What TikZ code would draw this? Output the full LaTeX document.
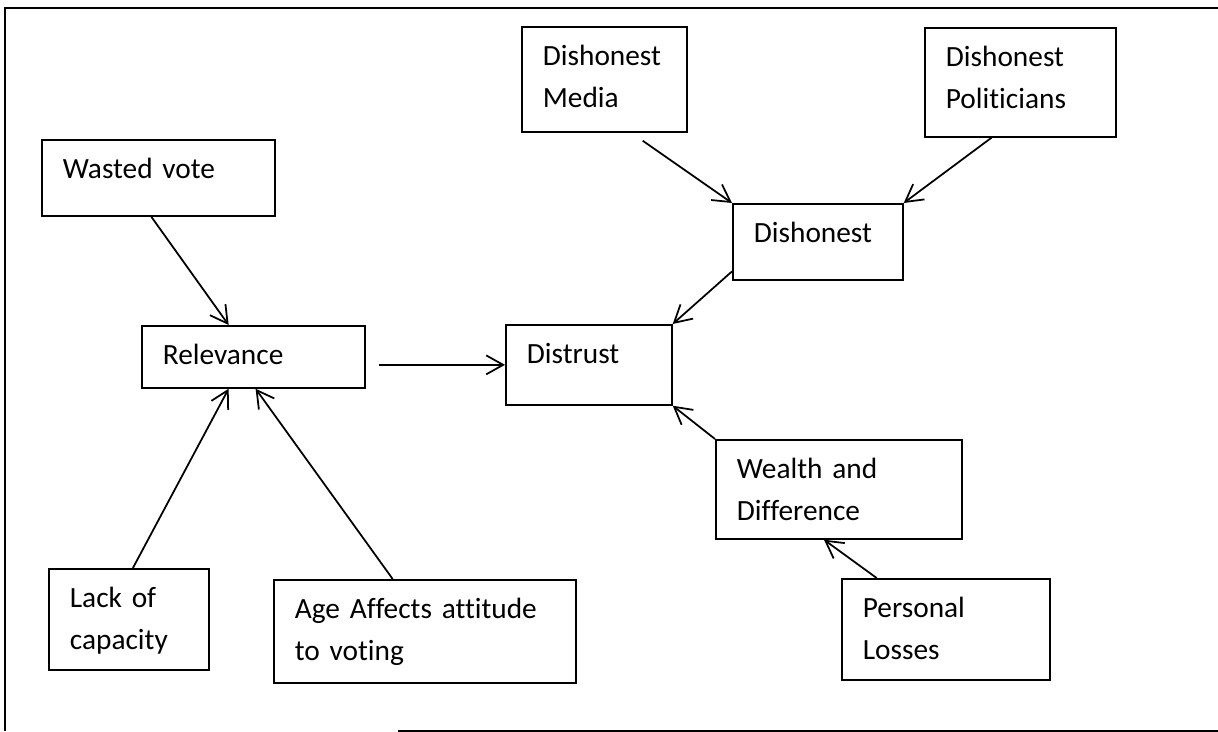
\documentclass[tikz,border=0pt]{standalone}
\usepackage{fontspec}
\setmainfont{Carlito}[Ligatures=NoCommon, WordSpace=0.85]
\usetikzlibrary{arrows.meta}
\usetikzlibrary{calc}
\tikzset{concept/.style={draw, line width=1pt, anchor=north west, align=left,
inner xsep=0.42cm, inner ysep=0pt, text height=0.77cm,
font=\fontsize{16.7}{23.9}\selectfont},
causes/.style={-{Straight Barb[length=0.34cm, width=0.38cm]}, line width=1pt}}

\begin{document}
\begin{tikzpicture}[x=0.02cm, y=-0.02cm]
\useasboundingbox (0,0) rectangle (1218,732);
\draw[line width=1.2pt] (398,731) -- (1230,731);
\draw[line width=1.2pt] (5,731) -- (5,8) -- (1230,8);

\node[concept, text width=3.82cm, text depth=0.75cm] (wasted) at (41,139) {Wasted vote};
\node[concept, text width=2.46cm, text depth=1.33cm] (media) at (521,26) {Dishonest\\Media};
\node[concept, text width=2.98cm, text depth=1.41cm] (politicians) at (924,27) {Dishonest\\Politicians};
\node[concept, text width=2.56cm, text depth=0.75cm] (dishonest) at (732,203) {Dishonest};
\node[concept, text width=3.62cm, text depth=0.47cm] (relevance) at (141,325) {Relevance};
\node[concept, text width=2.48cm, text depth=0.83cm] (distrust) at (505,324) {Distrust};
\node[concept, text width=4.08cm, text depth=1.21cm] (wealth) at (715,439) {Wealth and\\Difference};
\node[concept, text width=3.32cm, text depth=1.25cm] (personal) at (841,578) {Personal\\Losses};
\node[concept, text width=2.36cm, text depth=1.25cm] (lack) at (48,568) {Lack of\\capacity};
\node[concept, text width=5.20cm, text depth=1.29cm] (age) at (273,579) {Age~Affects~attitude\\to voting};

\draw[causes] ($(wasted.south west)!0.47!(wasted.south east)$) -- ($(relevance.north west)!0.39!(relevance.north east)$);
\draw[causes] ($(distrust.west -| relevance.east)+(13,0)$) -- (distrust.west);
\draw[causes] ($(lack.north west)!0.525!(lack.north east)$) -- ($(relevance.south west)!0.39!(relevance.south east)$);
\draw[causes] ($(age.north west)!0.394!(age.north east)$) -- ($(relevance.south west)!0.51!(relevance.south east)$);
\draw[causes] ($(media.south west)!0.73!(media.south east)+(0,8)$) -- (dishonest.north west);
\draw[causes] ($(politicians.south west)!0.35!(politicians.south east)$) -- (dishonest.north east);
\draw[causes] ($(dishonest.north west)!0.88!(dishonest.south west)$) -- (distrust.north east);
\draw[causes] (wealth.north west) -- (distrust.south east);
\draw[causes] ($(personal.north west)!0.17!(personal.north east)$) -- ($(wealth.south west)!0.44!(wealth.south east)$);
\end{tikzpicture}
\end{document}
